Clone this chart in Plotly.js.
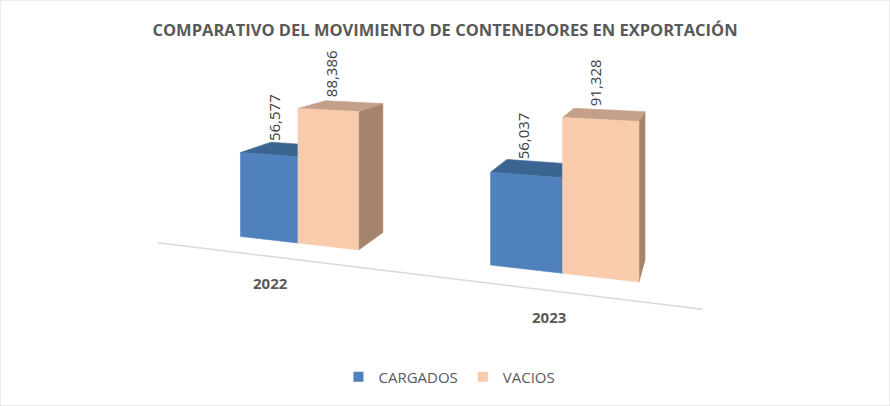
<!DOCTYPE html>
<html><head><meta charset="utf-8">
<script src="https://cdn.plot.ly/plotly-3.0.1.min.js"></script>
<style>html,body{margin:0;padding:0;background:#fff}#chart{width:890px;height:406px}</style>
</head><body><div id="chart"></div>
<script>
// ---- data ----
const categories = ['2022', '2023'];
const seriesNames = ['CARGADOS', 'VACIOS'];
const cargados = [56577, 56037];
const vacios = [88386, 91328];
const seriesValues = [cargados, vacios];

// ---- style ----
const faceColors = [
  {front: '#4f81bd', top: '#3b6591', side: '#365f8c'},
  {front: '#f8cbad', top: '#c4a08a', side: '#a6836c'}
];

// ---- 3D perspective geometry (Excel-like 3D clustered column) ----
const CAM = {f: 877, cx: 383, hy: -9, h: 3.836, X: 5.993, Z: -12.0, theta: 21 * Math.PI / 180};
const UNIT = 43135;            // data value per world unit of height
const PITCH = 4.0, BAR_W = 1, BAR_D = 1;
const FLOOR_Z = -0.75, FLOOR_X0 = -2.0, FLOOR_X1 = 5.8;

function proj(X, Y, Z) {
  const dx = X - CAM.X, dz = Z - CAM.Z;
  const c = Math.cos(CAM.theta), s = Math.sin(CAM.theta);
  const x1 = dx * c + dz * s, z1 = -dx * s + dz * c;
  return [CAM.cx + CAM.f * x1 / z1, CAM.hy + CAM.f * (CAM.h - Y) / z1];
}
function poly(pts, color, name) {
  const p = pts.map(q => proj(q[0], q[1], q[2]));
  p.push(p[0]);
  return {
    type: 'scatter', mode: 'lines', fill: 'toself', fillcolor: color,
    x: p.map(v => v[0]), y: p.map(v => v[1]),
    line: {color: color, width: 0.6}, hoverinfo: 'skip', showlegend: false, name: name
  };
}

const traces = [];
// floor front edge
const fl0 = proj(FLOOR_X0, 0, FLOOR_Z), fl1 = proj(FLOOR_X1, 0, FLOOR_Z);
traces.push({type: 'scatter', mode: 'lines', x: [fl0[0], fl1[0]], y: [fl0[1], fl1[1]],
  line: {color: '#d9d9d9', width: 1.5}, hoverinfo: 'skip', showlegend: false});

const annotations = [];
categories.forEach((cat, ci) => {
  const xc = ci * PITCH;
  seriesValues.forEach((vals, si) => {
    const X0 = xc - BAR_W + si * BAR_W, X1 = X0 + BAR_W;
    const Z0 = 0, Z1 = BAR_D;
    const H = vals[ci] / UNIT;
    const col = faceColors[si];
    traces.push(poly([[X1, 0, Z0], [X1, 0, Z1], [X1, H, Z1], [X1, H, Z0]], col.side, seriesNames[si]));
    traces.push(poly([[X0, H, Z0], [X1, H, Z0], [X1, H, Z1], [X0, H, Z1]], col.top, seriesNames[si]));
    traces.push(poly([[X0, 0, Z0], [X1, 0, Z0], [X1, H, Z0], [X0, H, Z0]], col.front, seriesNames[si]));
    const tp = proj((X0 + X1) / 2, H, (Z0 + Z1) / 2);
    annotations.push({
      x: tp[0], y: tp[1], xref: 'x', yref: 'y', xshift: -10, yshift: 32,
      text: vals[ci].toLocaleString('en-US'), showarrow: false, textangle: -90,
      xanchor: 'center', yanchor: 'middle',
      font: {family: 'Open Sans, sans-serif', size: 15, color: '#404040'}
    });
  });
  const lp = proj(xc, 0, FLOOR_Z);
  annotations.push({
    x: lp[0], y: lp[1], xref: 'x', yref: 'y', xshift: -4, yshift: -26, text: '<b>' + cat + '</b>',
    showarrow: false, xanchor: 'center', yanchor: 'middle',
    font: {family: 'Open Sans, sans-serif', size: 15, color: '#595959'}
  });
});

// legend entries
seriesNames.forEach((n, si) => {
  traces.push({type: 'scatter', mode: 'markers', x: [null], y: [null], name: n,
    marker: {symbol: 'square', size: 10, color: faceColors[si].front}, showlegend: true});
});

const layout = {
  width: 890, height: 406,
  margin: {l: 0, r: 0, t: 0, b: 0},
  paper_bgcolor: '#ffffff', plot_bgcolor: '#ffffff',
  title: {text: '<b>COMPARATIVO DEL MOVIMIENTO DE CONTENEDORES EN EXPORTACIÓN</b>',
    x: 0.5, xanchor: 'center', y: 1 - 30 / 406, yanchor: 'middle',
    font: {family: 'Open Sans, sans-serif', size: 16.5, color: '#595959'}},
  xaxis: {range: [0, 890], visible: false, fixedrange: true},
  yaxis: {range: [406, 0], visible: false, fixedrange: true},
  showlegend: true,
  legend: {orientation: 'h', x: 0.505, xanchor: 'center', y: 1 - 377 / 406, yanchor: 'middle',
    font: {family: 'Open Sans, sans-serif', size: 15, color: '#595959'}, bgcolor: 'rgba(0,0,0,0)'},
  annotations: annotations,
  shapes: [{type: 'rect', xref: 'paper', yref: 'paper', x0: 0, y0: 0, x1: 1, y1: 1,
    line: {color: '#d9d9d9', width: 1}}]
};
Plotly.newPlot('chart', traces, layout, {displayModeBar: false, staticPlot: true});
</script></body></html>
